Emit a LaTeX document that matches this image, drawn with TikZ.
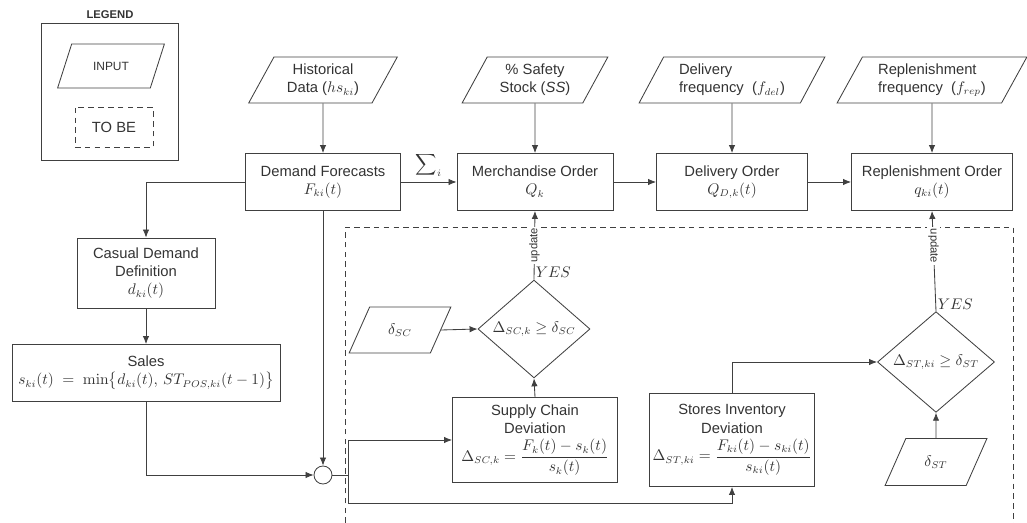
\documentclass[tikz,border=0pt]{standalone}
\usepackage{amsmath, amssymb}
\usepackage[no-math]{fontspec}
\setmainfont{Liberation Sans}
\usepackage{tikz}
\usetikzlibrary{shapes.geometric}
\usetikzlibrary{arrows.meta}

\begin{document}
\begin{tikzpicture}[x=0.025cm, y=-0.025cm, >={Latex[length=2mm, width=1.6mm]},
        color=black!75, line width=0.6pt,
        every node/.style={font=\fontsize{10.5}{13}\selectfont, text=black!80},
        procbox/.style={draw, rectangle, align=center, inner sep=2pt},
        inbox/.style={draw, trapezium, trapezium left angle=62, trapezium right angle=118,
                      trapezium stretches=true, align=center, inner sep=2pt},
        decbox/.style={draw, diamond, inner sep=0pt},
        tobebox/.style={draw, rectangle, dash pattern=on 4pt off 3pt},
        updlabel/.style={fill=white, inner sep=1pt, font=\fontsize{8}{9}\selectfont}]
        \useasboundingbox (0,0) rectangle (1027,523);

        % Legend
        \node (legtitle) at (110,15) {\fontsize{8}{9}\selectfont\bfseries LEGEND};
        \node (legbox) at (109.5,91.5) [draw, minimum width=3.425cm, minimum height=3.425cm] {};
        \node (leginp) at (111,66) [inbox, minimum width=2.675cm, minimum height=1.1cm] {\fontsize{8.5}{10}\selectfont INPUT};
        \node (legtobe) at (114,127) [tobebox, minimum width=1.95cm, minimum height=1cm] {TO BE};

        % Inputs on top
        \node (hist) at (323,80) [inbox, minimum width=3.725cm, minimum height=1.15cm] {Historical\\Data ($hs_{ki}$)};
        \node (ss) at (535,80) [inbox, minimum width=3.675cm, minimum height=1.15cm] {\% Safety\\Stock (\textit{SS})};
        \node (fdel) at (732,80) [inbox, align=left, minimum width=4.65cm, minimum height=1.15cm] {Delivery\\frequency \ ($f_{del}$)};
        \node (frep) at (932,80) [inbox, align=left, minimum width=4.75cm, minimum height=1.15cm] {Replenishment\\frequency \ ($f_{rep}$)};

        % Orders
        \node (fcst) at (323,182) [procbox, minimum width=3.875cm, minimum height=1.425cm] {Demand Forecasts\\$F_{ki}(t)$};
        \node (merch) at (535,182) [procbox, minimum width=3.9cm, minimum height=1.425cm] {Merchandise Order\\$Q_k$};
        \node (dord) at (732,182) [procbox, minimum width=3.775cm, minimum height=1.425cm] {Delivery Order\\$Q_{D,k}(t)$};
        \node (rord) at (932,182) [procbox, minimum width=4.025cm, minimum height=1.425cm] {Replenishment Order\\$q_{ki}(t)$};

        % Demand and sales
        \node (casual) at (146,273) [procbox, minimum width=3.45cm, minimum height=1.75cm] {Casual Demand\\Definition\\$d_{ki}(t)$};
        \node (sales) at (146,373) [procbox, minimum width=6.7cm, minimum height=1.425cm] {Sales\\$s_{ki}(t)\;=\;\min\bigl\{d_{ki}(t),\,ST_{POS,ki}(t-1)\bigr\}$};
        \node (sum) at (323,475) [draw, circle, minimum size=0.45cm, inner sep=0pt] {};
        \coordinate (br) at (348,475);

        % Deviations
        \node (scd) at (535,440) [procbox, minimum width=4.125cm, minimum height=2.125cm] {Supply Chain\\Deviation\\[3pt]$\Delta_{SC,k}=\dfrac{F_k(t)-s_k(t)}{s_k(t)}$};
        \node (sid) at (732,440) [procbox, minimum width=4.125cm, minimum height=2.325cm] {Stores Inventory\\Deviation\\[3pt]$\Delta_{ST,ki}=\dfrac{F_{ki}(t)-s_{ki}(t)}{s_{ki}(t)}$};

        % Checks
        \node (dmsc) at (534,329) [decbox, minimum width=2.8cm, minimum height=1.55cm] {$\Delta_{SC,k}\geq\delta_{SC}$};
        \node (dmst) at (936,362) [decbox, minimum width=2.925cm, minimum height=1.55cm] {$\Delta_{ST,ki}\geq\delta_{ST}$};
        \node (dsc) at (400,330) [inbox, minimum width=2.55cm, minimum height=1.15cm] {$\delta_{SC}$};
        \node (dst) at (936,462) [inbox, minimum width=2.55cm, minimum height=1.175cm] {$\delta_{ST}$};

        % TO BE area
        \draw[dash pattern=on 4pt off 3pt] (345,523) |- (1013,227) -- (1013,523);

        % Arrows from inputs
        \draw[->] (hist.south) -- (fcst.north);
        \draw[->] (ss.south) -- (merch.north);
        \draw[->] (fdel.south) -- (dord.north);
        \draw[->] (frep.south) -- (rord.north);

        % Order chain
        \draw[->] (fcst.east) -- (merch.west) node[midway, above] {$\displaystyle\sum\nolimits_i$};
        \draw[->] (merch.east) -- (dord.west);
        \draw[->] (dord.east) -- (rord.west);

        % Demand to sales to deviation
        \draw[->] (fcst.west) -| (casual.north);
        \draw[->] (casual.south) -- (sales.north);
        \draw[->] (sales.south) |- (sum.west);
        \draw[->] (fcst.south) -- (sum.north);
        \draw (sum.east) -- (br);
        \draw[->] (br) |- (scd.west);
        \draw[->] (br) -- ++(0,28) -| (sid.south);

        % Checks and updates
        \draw[->] (scd.north) -- (dmsc.south);
        \draw[->] (dsc.east) -- (dmsc.west);
        \draw[->] (dmsc.north) -- (merch.south) node[pos=0.5, rotate=90, updlabel] {update};
        \node (yessc) at (dmsc.north) [anchor=south west, inner sep=1pt] {$YES$};
        \draw[->] (sid.north) |- (dmst.west);
        \draw[->] (dst.north) -- (dmst.south);
        \draw[->] (dmst.north) -- (rord.south) node[pos=0.65, rotate=-90, updlabel] {update};
        \node (yesst) at (dmst.north) [anchor=south west, inner sep=1pt] {$YES$};

    \end{tikzpicture}
\end{document}
